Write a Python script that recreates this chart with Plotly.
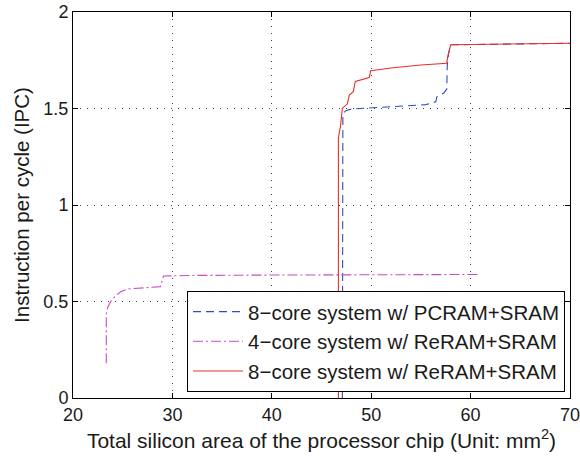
import plotly.graph_objects as go

# IPC versus total chip area for three processor configurations
area_pcram8 = [47.1, 47.1, 47.15, 47.2, 47.5, 48.0, 49.0, 51.6, 53.0, 55.5, 56.5, 56.6, 57.3, 57.6, 57.65, 57.8, 58.0, 62.0, 66.0, 70.0]
ipc_pcram8 = [0.0, 1.42, 1.46, 1.477, 1.49, 1.497, 1.50, 1.51, 1.515, 1.52, 1.535, 1.56, 1.58, 1.60, 1.72, 1.79, 1.83, 1.833, 1.836, 1.838]

area_reram4 = [23.35, 23.35, 23.5, 23.8, 24.3, 24.8, 25.5, 27.0, 28.8, 29.1, 32.0, 40.0, 50.0, 60.8]
ipc_reram4 = [0.18, 0.44, 0.47, 0.50, 0.53, 0.55, 0.565, 0.57, 0.577, 0.632, 0.635, 0.637, 0.638, 0.64]

area_reram8 = [46.7, 46.7, 46.9, 47.1, 47.2, 47.6, 47.8, 48.2, 48.4, 49.8, 49.95, 52.0, 55.0, 57.6, 57.7, 57.8, 58.0, 62.0, 66.0, 70.0]
ipc_reram8 = [0.0, 1.35, 1.405, 1.50, 1.506, 1.523, 1.57, 1.587, 1.64, 1.66, 1.696, 1.71, 1.725, 1.734, 1.77, 1.79, 1.83, 1.833, 1.836, 1.838]

FONT = "Liberation Sans, Arial, Helvetica, sans-serif"
TEXT = "#1a1a1a"

fig = go.Figure()
fig.add_trace(go.Scatter(
    x=area_pcram8, y=ipc_pcram8, mode="lines",
    name="8\u2212core system w/ PCRAM+SRAM",
    line=dict(color="#2f4fb8", width=1.1, dash="8px,5px"),
))
fig.add_trace(go.Scatter(
    x=area_reram4, y=ipc_reram4, mode="lines",
    name="4\u2212core system w/ ReRAM+SRAM",
    line=dict(color="#c24fc2", width=1.1, dash="10px,3px,2px,3px"),
))
fig.add_trace(go.Scatter(
    x=area_reram8, y=ipc_reram8, mode="lines",
    name="8\u2212core system w/ ReRAM+SRAM",
    line=dict(color="#e8302c", width=1.1),
))

axis_common = dict(
    showline=True, linecolor="black", linewidth=1, mirror="ticks",
    ticks="inside", ticklen=5, tickcolor="black",
    showgrid=True, gridcolor="#444444", griddash="1px,6px", gridwidth=1,
    zeroline=False, automargin=False, ticklabeloverflow="allow",
    tickfont=dict(family=FONT, size=18, color=TEXT),
)

fig.update_xaxes(
    range=[20, 70], tickvals=[20, 30, 40, 50, 60, 70],
    title=dict(text="Total silicon area of the processor chip (Unit: mm<sup>2</sup>)",
               font=dict(family=FONT, size=21, color=TEXT), standoff=9),
    **axis_common,
)
fig.update_yaxes(
    range=[0, 2], tickvals=[0, 0.5, 1, 1.5, 2],
    title=dict(text="Instruction per cycle (IPC)",
               font=dict(family=FONT, size=20.5, color=TEXT), standoff=8),
    **axis_common,
)

fig.update_layout(
    width=580, height=458,
    margin=dict(l=73, r=10, t=12, b=60),
    plot_bgcolor="white", paper_bgcolor="white",
    font=dict(family=FONT, color=TEXT),
    legend=dict(
        x=0.99, y=0.016, xanchor="right", yanchor="bottom",
        bordercolor="black", borderwidth=1, bgcolor="white",
        font=dict(family=FONT, size=20.5, color=TEXT),
        tracegroupgap=0, itemwidth=50,
    ),
)

fig.write_html("out.html")
